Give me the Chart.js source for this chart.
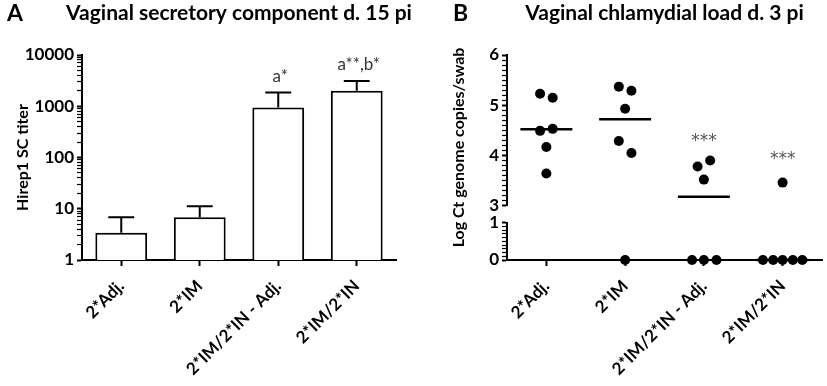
<!DOCTYPE html>
<html>
<head>
<meta charset="utf-8">
<script src="https://cdn.jsdelivr.net/npm/chart.js@4.4.1/dist/chart.umd.min.js"></script>
<style>
  html, body { margin: 0; padding: 0; background: #fff; }
  #wrap { position: relative; width: 827px; height: 386px; }
  #chartA { position: absolute; left: 0; top: 0; }
  #chartB { position: absolute; left: 420px; top: 0; }
</style>
</head>
<body>
<div id="wrap">
  <canvas id="chartA" width="420" height="386"></canvas>
  <canvas id="chartB" width="407" height="386"></canvas>
</div>
<script>
const groups = ['2*Adj.', '2*IM', '2*IM/2*IN - Adj.', '2*IM/2*IN'];

// panel A - SC titer, mean + upper error
const titerMeans = [3.4, 6.8, 950, 2000];
const titerErrors = [6.8, 11.2, 1850, 3100];
const titerMarks = ['', '', 'a*', 'a**,b*'];
const titerMajorTicks = [1, 10, 100, 1000, 10000];

// panel B - log Ct genome copies, points above the axis break
const highGroup = [0, 0, 0, 0, 0, 0, 1, 1, 1, 1, 1, 2, 2, 2, 3];
const highJitter = [-0.08, 0.08, -0.08, 0.08, 0, 0, -0.08, 0.08, 0, -0.08, 0.08, -0.08, 0.08, 0, 0];
const highValues = [5.23, 5.15, 4.49, 4.53, 4.17, 3.64, 5.37, 5.29, 4.93, 4.29, 4.05, 3.78, 3.9, 3.52, 3.46];
// points at zero (below the break)
const zeroGroup = [1, 2, 2, 2, 3, 3, 3, 3, 3];
const zeroJitter = [0, -0.15, 0, 0.16, -0.25, -0.12, 0, 0.13, 0.25];
const zeroValues = [0, 0, 0, 0, 0, 0, 0, 0, 0];
const medians = [4.52, 4.72, 3.18, 0];
const starMarks = ['', '', '***', '***'];
const starLevels = [null, null, 4.31, 3.95];
const loadHighTicks = [3, 4, 5, 6];
const loadLowTicks = [0, 1];

const FONT = 'Lato, "Open Sans", sans-serif';

// titles, panel letters and free text
const panelText = {
    id: 'panelText',
    afterDraw(chart, args, opts) {
        const { ctx, chartArea } = chart;
        ctx.save();
        ctx.fillStyle = '#000';
        ctx.textBaseline = 'alphabetic';
        ctx.font = 'bold 23px ' + FONT;
        ctx.textAlign = 'left';
        ctx.fillText(opts.letter, opts.letterX, 21);
        ctx.font = 'bold 21px ' + FONT;
        ctx.textAlign = 'center';
        ctx.fillText(opts.title, (chartArea.left + chartArea.right) / 2, 20);
        if (opts.axisTitle) {
            ctx.translate(opts.axisTitleX, (chartArea.top + chartArea.bottom) / 2 - 10);
            ctx.rotate(-Math.PI / 2);
            ctx.font = 'bold 16px ' + FONT;
            ctx.textBaseline = 'middle';
            ctx.fillText(opts.axisTitle, 0, 0);
        }
        ctx.restore();
    }
};

const errorBars = {
    id: 'errorBars',
    afterDatasetsDraw(chart) {
        const { ctx } = chart;
        const y = chart.scales.y;
        const meta = chart.getDatasetMeta(0);
        ctx.save();
        ctx.strokeStyle = '#000';
        ctx.lineWidth = 2;
        ctx.fillStyle = '#333';
        ctx.font = '17px ' + FONT;
        ctx.textAlign = 'center';
        meta.data.forEach((bar, i) => {
            const top = y.getPixelForValue(titerErrors[i]);
            const cap = bar.width / 4;
            ctx.beginPath();
            ctx.moveTo(bar.x, bar.y);
            ctx.lineTo(bar.x, top);
            ctx.moveTo(bar.x - cap, top);
            ctx.lineTo(bar.x + cap, top);
            ctx.stroke();
            if (titerMarks[i]) {
                ctx.fillText(titerMarks[i], bar.x + 2, top - 11);
            }
        });
        ctx.restore();
    }
};

const starText = {
    id: 'starText',
    afterDatasetsDraw(chart) {
        const { ctx } = chart;
        const x = chart.scales.x;
        const y = chart.scales.yHigh;
        ctx.save();
        ctx.fillStyle = '#555';
        ctx.font = '17px "DejaVu Sans", sans-serif';
        ctx.textAlign = 'center';
        ctx.textBaseline = 'middle';
        starMarks.forEach((m, i) => {
            if (m) ctx.fillText(m, x.getPixelForValue(i), y.getPixelForValue(starLevels[i]) + 2);
        });
        ctx.restore();
    }
};

const tickFont = { family: FONT, size: 17, weight: 'bold' };
const labelFont = { family: FONT, size: 17, weight: 'bold' };

const xTicks = {
    color: '#000',
    font: labelFont,
    minRotation: 45,
    maxRotation: 45,
    autoSkip: false,
    padding: 10
};

// Panel A
new Chart(document.getElementById('chartA'), {
    type: 'bar',
    data: {
        labels: groups,
        datasets: [{
            data: titerMeans,
            backgroundColor: '#fff',
            borderColor: '#000',
            borderWidth: 2,
            barPercentage: 0.66,
            categoryPercentage: 1
        }]
    },
    options: {
        responsive: false,
        animation: false,
        layout: { padding: { top: 55, right: 24, left: 0, bottom: 0 } },
        plugins: {
            legend: { display: false },
            tooltip: { enabled: false },
            panelText: { letter: 'A', letterX: 7, title: 'Vaginal secretory component d. 15 pi' }
        },
        scales: {
            x: {
                offset: true,
                grid: { offset: false, drawOnChartArea: false, color: '#000', tickLength: 6, tickWidth: 2 },
                border: { color: '#000', width: 2 },
                ticks: xTicks,
                afterFit: s => { s.height = 126; }
            },
            y: {
                type: 'logarithmic',
                min: 1,
                max: 10000,
                grid: {
                    drawOnChartArea: false,
                    color: '#000',
                    tickLength: 5,
                    tickWidth: ctx => (ctx.tick && titerMajorTicks.includes(ctx.tick.value) ? 2 : 1.2)
                },
                border: { color: '#000', width: 2 },
                ticks: {
                    color: '#000',
                    font: tickFont,
                    padding: 3,
                    autoSkip: false,
                    callback: v => (titerMajorTicks.includes(v) ? String(v) : '')
                },
                afterBuildTicks: s => {
                    const t = [];
                    titerMajorTicks.forEach((m, i) => {
                        t.push({ value: m });
                        if (i < titerMajorTicks.length - 1) {
                            for (let k = 2; k <= 9; k++) t.push({ value: m * k });
                        }
                    });
                    s.ticks = t;
                },
                title: {
                    display: true,
                    text: 'Hirep1 SC titer',
                    color: '#000',
                    font: { family: FONT, size: 16, weight: 'bold' },
                    padding: { top: 13, bottom: 0 }
                },
                afterFit: s => { s.width = 82; }
            }
        }
    },
    plugins: [errorBars, panelText]
});

// Panel B
const pointStyle = { pointRadius: 5, pointHoverRadius: 5, backgroundColor: '#000', borderWidth: 0, clip: false };

const medianSets = medians.map((m, i) => ({
    data: [{ x: i - 0.33, y: m }, { x: i + 0.33, y: m }],
    yAxisID: m >= 3 ? 'yHigh' : 'yLow',
    showLine: true,
    borderColor: '#000',
    borderWidth: 2.5,
    pointRadius: 0,
    clip: false
}));

const yCommon = {
    type: 'linear',
    position: 'left',
    stack: 'load',
    grid: {
        drawOnChartArea: false,
        color: '#000',
        tickLength: 5,
        tickWidth: ctx => (ctx.tick && Number.isInteger(Math.round(ctx.tick.value * 10) / 10) ? 2 : 1.2)
    },
    border: { color: '#000', width: 2 },
    afterFit: s => { s.width = 87; }
};

// minor ticks every 0.1 between the first and last labelled tick
const fineTicks = (list) => s => {
    const t = [];
    for (let k = 0; k <= (list[list.length - 1] - list[0]) * 10; k++) {
        t.push({ value: Math.round((list[0] + k / 10) * 10) / 10 });
    }
    s.ticks = t;
};

new Chart(document.getElementById('chartB'), {
    type: 'scatter',
    data: {
        datasets: [
            Object.assign({
                data: highValues.map((v, i) => ({ x: highGroup[i] + highJitter[i], y: v })),
                yAxisID: 'yHigh'
            }, pointStyle),
            Object.assign({
                data: zeroValues.map((v, i) => ({ x: zeroGroup[i] + zeroJitter[i], y: v })),
                yAxisID: 'yLow'
            }, pointStyle),
            ...medianSets
        ]
    },
    options: {
        responsive: false,
        animation: false,
        layout: { padding: { top: 55, right: 5, left: 0, bottom: 0 } },
        plugins: {
            legend: { display: false },
            tooltip: { enabled: false },
            panelText: {
                letter: 'B', letterX: 33,
                title: 'Vaginal chlamydial load d. 3 pi',
                axisTitle: 'Log Ct genome copies/swab', axisTitleX: 39
            }
        },
        scales: {
            x: {
                type: 'linear',
                min: -0.5,
                max: 3.5,
                grid: { drawOnChartArea: false, color: '#000', tickLength: 6, tickWidth: 2 },
                border: { color: '#000', width: 2 },
                ticks: Object.assign({ callback: v => groups[v] }, xTicks),
                afterBuildTicks: s => { s.ticks = groups.map((g, i) => ({ value: i })); },
                afterFit: s => { s.height = 126; }
            },
            yHigh: Object.assign({}, yCommon, {
                min: 3, max: 6, weight: 3, stackWeight: 3,
                ticks: {
                    color: '#000', font: tickFont, padding: 3, autoSkip: false,
                    callback: v => (loadHighTicks.includes(v) ? String(v) : '')
                },
                afterBuildTicks: fineTicks(loadHighTicks)
            }),
            // empty axis that leaves the gap of the broken axis
            yGap: Object.assign({}, yCommon, {
                min: 0, max: 1, weight: 2, stackWeight: 0.34,
                grid: { display: false },
                border: { display: false },
                ticks: { display: false }
            }),
            yLow: Object.assign({}, yCommon, {
                min: 0, max: 1, weight: 1, stackWeight: 0.74,
                ticks: {
                    color: '#000', font: tickFont, padding: 3, autoSkip: false,
                    callback: v => (loadLowTicks.includes(v) ? String(v) : '')
                },
                afterBuildTicks: fineTicks(loadLowTicks)
            })
        }
    },
    plugins: [starText, panelText]
});
</script>
</body>
</html>
